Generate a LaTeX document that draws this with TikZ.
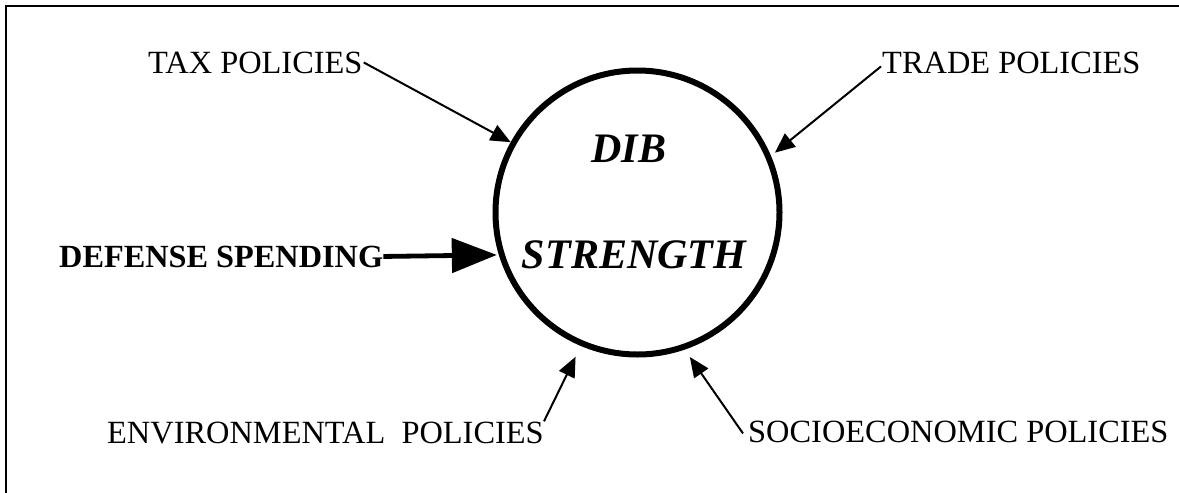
\documentclass[tikz,border=0pt]{standalone}
\usepackage{fontspec}
\setmainfont{Liberation Serif}
\usetikzlibrary{arrows.meta,calc}
\begin{document}
\begin{tikzpicture}[x=1pt,y=-1pt,
  lbl/.style={inner sep=0pt,anchor=base west,font=\fontsize{32.4}{38}\selectfont},
  boldlbl/.style={inner sep=0pt,anchor=base west,font=\fontsize{32.3}{38}\selectfont\bfseries},
  bigtxt/.style={inner sep=0pt,anchor=base,font=\fontsize{42}{50}\selectfont\bfseries\itshape},
  thinarrow/.style={line width=2pt,-{Triangle[length=20pt,width=17pt]}},
  thickarrow/.style={line width=4.8pt,-{Triangle[length=45pt,width=34pt]}},
  framestyle/.style={line width=2.6pt}]
\useasboundingbox (0,0) rectangle (1179,493);
% frame (top and left edges)
\draw[framestyle] (6,493) -- (6,6) -- (1179,6);
% central circle
\node[circle,draw,line width=6pt,minimum size=284pt,inner sep=0pt] (c) at (637.5,212.5) {};
\node[bigtxt] (dib) at (629,162) {DIB};
\node[bigtxt] (str) at (634,268) {STRENGTH};
% labels
\node[lbl] (tax) at (148,73) {TAX POLICIES};
\node[lbl] (trade) at (882,73) {TRADE POLICIES};
\node[boldlbl] (def) at (59,267) {DEFENSE SPENDING};
\node[lbl] (env) at (107,443) {ENVIRONMENTAL\ \ POLICIES};
\node[lbl] (soc) at (748,442) {SOCIOECONOMIC POLICIES};
% connectors
\draw[thinarrow] ($(tax.east)+(1,0)$) -- (c.151);
\draw[thinarrow,shorten >=5pt] ($(trade.west)+(-1,4)$) -- (c.23);
\draw[thickarrow,shorten >=2pt] (def.east) -- (c.197);
\draw[thinarrow,shorten >=12pt] (env.north east) -- (c.247);
\draw[thinarrow,shorten >=9pt] ($(soc.west)+(-5,2)$) -- (c.289);
\end{tikzpicture}
\end{document}
